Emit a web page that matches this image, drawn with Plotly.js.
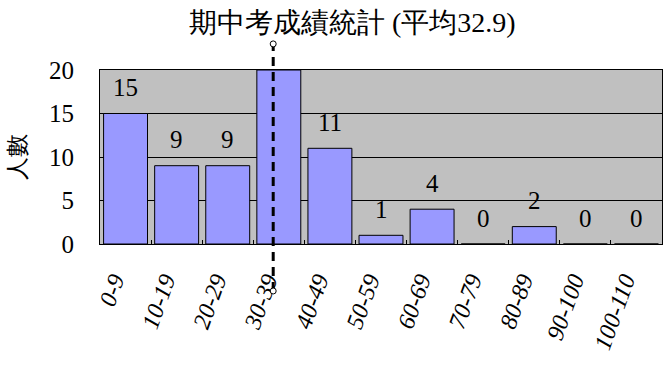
<!DOCTYPE html>
<html><head><meta charset="utf-8">
<script src="https://cdn.plot.ly/plotly-3.0.1.min.js"></script>
<style>body{margin:0;background:#fff}#c{width:666px;height:367px}</style>
</head><body><div id="c"></div>
<script>
const categories = ['0-9','10-19','20-29','30-39','40-49','50-59','60-69','70-79','80-89','90-100','100-110'];
const counts = [15, 9, 9, 20, 11, 1, 4, 0, 2, 0, 0];
const meanScore = 32.9;
const yTicks = [0, 5, 10, 15, 20];
const chartTitle = '期中考成績統計 (平均' + meanScore + ')';
const yTitle = '人數';

const serif = 'Liberation Serif';
const meanPos = meanScore / 10 - 0.4;

const annotations = categories.map((c, i) => counts[i] >= 20 ? null : ({
  x: c, y: counts[i], xref: 'x', yref: 'y', text: String(counts[i]),
  showarrow: false, yshift: 26, font: {family: serif, size: 25, color: '#000'}
})).filter(a => a);

const data = [{
  type: 'bar', x: categories, y: counts,
  marker: {color: '#9999ff', line: {color: '#000', width: 1}},
  hoverinfo: 'none'
}];

const layout = {
  width: 666, height: 367,
  margin: {l: 100, r: 4, t: 70, b: 123},
  paper_bgcolor: '#fff', plot_bgcolor: '#c0c0c0',
  bargap: 0.14, showlegend: false,
  title: {text: chartTitle, x: 0.529, xanchor: 'center', y: 0.94, yanchor: 'middle',
          font: {family: serif, size: 28, color: '#000'}},
  xaxis: {type: 'category', tickangle: -70, showline: true, linecolor: '#000', mirror: true,
          ticks: 'inside', tickson: 'boundaries', ticklen: 4, tickcolor: '#000',
          ticklabelstandoff: 12, ticklabelshift: -12,
          tickfont: {family: serif, size: 24, color: '#000', style: 'italic'},
          showgrid: false, range: [-0.5, categories.length - 0.5]},
  yaxis: {range: [0, 20], tickvals: yTicks, showline: true, linecolor: '#000', mirror: true,
          gridcolor: '#000', gridwidth: 1, zeroline: false, ticks: '',
          ticklabelstandoff: 20,
          tickfont: {family: serif, size: 25, color: '#000'},
          title: {text: yTitle, standoff: 16, font: {family: serif, size: 23, color: '#000'}}},
  annotations: annotations,
  shapes: [
    {type: 'line', xref: 'x', yref: 'paper', x0: meanPos, x1: meanPos, y0: -0.27, y1: 1.15,
     line: {color: '#000', width: 3, dash: '9px,6px'}},
    {type: 'circle', xref: 'x', yref: 'paper', xsizemode: 'pixel', ysizemode: 'pixel',
     xanchor: meanPos, yanchor: 1.15, x0: -3, x1: 3, y0: -3, y1: 3,
     line: {color: '#000', width: 1}, fillcolor: '#fff'},
    {type: 'circle', xref: 'x', yref: 'paper', xsizemode: 'pixel', ysizemode: 'pixel',
     xanchor: meanPos, yanchor: -0.27, x0: -3, x1: 3, y0: -3, y1: 3,
     line: {color: '#000', width: 1}, fillcolor: '#fff'}
  ]
};
Plotly.newPlot('c', data, layout, {displayModeBar: false});
</script></body></html>
